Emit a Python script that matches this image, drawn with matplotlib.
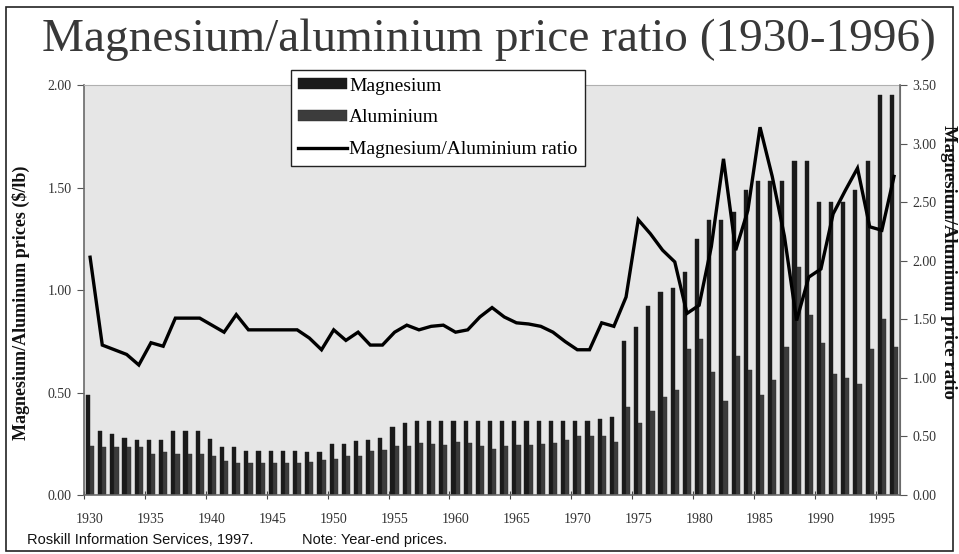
import numpy as np
import matplotlib
matplotlib.use("Agg")
import matplotlib.pyplot as plt
from matplotlib.patches import Rectangle

years = list(range(1930, 1997))

# Year-end prices, $/lb
magnesium = [0.49, 0.31, 0.30, 0.28, 0.27, 0.27, 0.27, 0.31, 0.31, 0.31,
             0.275, 0.235, 0.235, 0.215, 0.215, 0.215, 0.215, 0.215, 0.21, 0.21,
             0.25, 0.25, 0.265, 0.27, 0.28, 0.33, 0.35, 0.36, 0.36, 0.36,
             0.36, 0.36, 0.36, 0.36, 0.36, 0.36, 0.36, 0.36, 0.36, 0.36,
             0.36, 0.36, 0.37, 0.38, 0.75, 0.82, 0.92, 0.99, 1.01, 1.09,
             1.25, 1.34, 1.34, 1.38, 1.49, 1.53, 1.53, 1.53, 1.63, 1.63,
             1.43, 1.43, 1.43, 1.49, 1.63, 1.95, 1.95]
aluminium = [0.24, 0.235, 0.235, 0.235, 0.235, 0.20, 0.21, 0.20, 0.20, 0.20,
             0.19, 0.165, 0.155, 0.155, 0.155, 0.155, 0.155, 0.155, 0.16, 0.17,
             0.175, 0.19, 0.19, 0.215, 0.22, 0.24, 0.24, 0.255, 0.25, 0.245,
             0.26, 0.255, 0.24, 0.225, 0.24, 0.245, 0.245, 0.25, 0.255, 0.27,
             0.29, 0.29, 0.29, 0.26, 0.43, 0.35, 0.41, 0.48, 0.51, 0.71,
             0.76, 0.60, 0.46, 0.68, 0.61, 0.49, 0.56, 0.72, 1.11, 0.88,
             0.74, 0.59, 0.57, 0.54, 0.71, 0.86, 0.72]
ratio = [2.03, 1.28, 1.24, 1.20, 1.11, 1.30, 1.27, 1.51, 1.51, 1.51,
         1.45, 1.39, 1.54, 1.41, 1.41, 1.41, 1.41, 1.41, 1.34, 1.24,
         1.41, 1.32, 1.39, 1.28, 1.28, 1.39, 1.45, 1.41, 1.44, 1.45,
         1.39, 1.41, 1.52, 1.60, 1.52, 1.47, 1.46, 1.44, 1.39, 1.31,
         1.24, 1.24, 1.47, 1.44, 1.69, 2.35, 2.23, 2.09, 1.99, 1.55,
         1.62, 2.12, 2.87, 2.09, 2.43, 3.14, 2.72, 2.21, 1.49, 1.86,
         1.93, 2.40, 2.60, 2.79, 2.29, 2.26, 2.72]

left_ticks = [0, 0.5, 1.0, 1.5, 2.0]
right_ticks = [0, 0.5, 1.0, 1.5, 2.0, 2.5, 3.0, 3.5]
label_years = list(range(1930, 1996, 5))

serif = "Liberation Serif"
tick_col = "#333333"

fig = plt.figure(figsize=(9.59, 5.54), dpi=100, facecolor="white")
ax = fig.add_axes([0.0876, 0.1065, 0.851, 0.740])
ax.set_facecolor("#e6e6e6")

x = np.arange(len(years))
w = 0.34
b1 = ax.bar(x - w / 2, magnesium, w, color="#1a1a1a", edgecolor="#1a1a1a", linewidth=0.3, label="Magnesium")
b2 = ax.bar(x + w / 2, aluminium, w, color="#3c3c3c", edgecolor="#2a2a2a", linewidth=0.3, label="Aluminium")
ax.set_xlim(-0.5, len(years) - 0.5)
ax.set_ylim(0, 2.0)
ax.set_yticks(left_ticks)
ax.set_yticklabels(["%.2f" % v for v in left_ticks], fontfamily=serif, fontsize=10, color=tick_col)

# category style x axis: ticks between groups, labels centred on the year
ax.set_xticks([y - 1930 - 0.5 for y in label_years])
ax.set_xticklabels([])
ax.set_xticks([y - 1930 for y in label_years], minor=True)
ax.set_xticklabels([str(y) for y in label_years], minor=True, fontfamily=serif, fontsize=10, color=tick_col)
ax.tick_params(axis="x", which="major", direction="inout", length=6, color="#444444")
ax.tick_params(axis="x", which="minor", length=0, pad=13)
ax.tick_params(axis="y", direction="out", length=5, color="#555555", pad=4)

for s in ["left", "bottom"]:
    ax.spines[s].set_color("#6a6a6a")
    ax.spines[s].set_linewidth(1.2)
ax.spines["top"].set_color("#b0b0b0")
ax.spines["right"].set_color("#6a6a6a")

ax2 = ax.twinx()
ln, = ax2.plot(x, ratio, color="black", linewidth=2.4, solid_joinstyle="miter",
               label="Magnesium/Aluminium ratio")
ax2.set_ylim(0, 3.5)
ax2.set_yticks(right_ticks)
ax2.set_yticklabels(["%.2f" % v for v in right_ticks], fontfamily=serif, fontsize=10, color=tick_col)
ax2.tick_params(axis="y", direction="out", length=5, color="#555555", pad=4)
ax2.spines["right"].set_color("#6a6a6a")
ax2.spines["right"].set_linewidth(1.2)
for s in ["left", "top", "bottom"]:
    ax2.spines[s].set_visible(False)

ax.set_ylabel("Magnesium/Aluminum prices ($/lb)", fontfamily=serif, fontsize=13,
              fontweight="bold", color="#111111")
ax.yaxis.set_label_coords(-0.066, 0.468)
fig.text(0.989, 0.527, "Magnesium/Aluminum price ratio", rotation=270, ha="center", va="center",
         fontfamily=serif, fontsize=13.5, fontweight="bold", color="#111111")

fig.legend([b1, b2, ln], ["Magnesium", "Aluminium", "Magnesium/Aluminium ratio"],
           loc="upper left", bbox_to_anchor=(0.303, 0.874), borderaxespad=0,
           prop={"family": serif, "size": 14},
           frameon=True, fancybox=False, edgecolor="#222222", facecolor="white", framealpha=1,
           handlelength=2.5, handleheight=0.5, labelspacing=0.75, borderpad=0.4, handletextpad=0.1)

fig.text(0.51, 0.928, "Magnesium/aluminium price ratio (1930-1996)", ha="center", va="center",
         fontfamily=serif, fontsize=34, color="#383838")
fig.text(0.028, 0.025, "Roskill Information Services, 1997.", fontfamily="Liberation Sans",
         fontsize=10.5, color="#111111", va="center")
fig.text(0.315, 0.025, "Note: Year-end prices.", fontfamily="Liberation Sans",
         fontsize=10.5, color="#111111", va="center")

fig.patches.append(Rectangle((0.006, 0.006), 0.988, 0.981, transform=fig.transFigure,
                             fill=False, edgecolor="#222222", linewidth=1.2))

fig.savefig("out.png", dpi=100, facecolor="white")
